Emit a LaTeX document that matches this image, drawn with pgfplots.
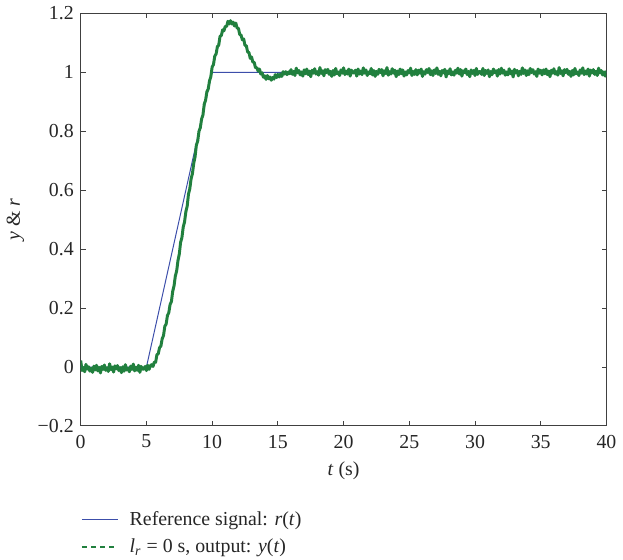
\documentclass[border=0pt]{standalone}
\usepackage{fontspec}
\setmainfont{Liberation Serif}
\usepackage{pgfplots}
\pgfplotsset{compat=1.18}
\definecolor{refblue}{RGB}{60,78,170}
\definecolor{outgreen}{RGB}{33,128,62}
\begin{document}
\fontsize{10}{12}\selectfont
\begin{tikzpicture}
\begin{axis}[
  scale only axis,
  width=265pt, height=208pt,
  xmin=0, xmax=40, ymin=-0.2, ymax=1.2,
  xtick={0,5,...,40},
  ytick={-0.2,0,0.2,0.4,0.6,0.8,1,1.2},
  yticklabels={−0.2,0,0.2,0.4,0.6,0.8,1,1.2},
  /pgf/number format/assume math mode=true,
  tick align=inside,
  major tick length=2.5pt,
  tick style={black!75, line width=0.5pt},
  axis line style={black!75, line width=0.5pt},
  tick label style={font=\fontsize{10}{12}\selectfont, black!85},
  xticklabel style={yshift=-1pt},
  xlabel={\textit{t} (s)},
  ylabel={\textit{y} \& \textit{r}},
  label style={font=\fontsize{10}{12}\selectfont, black!85},
  legend style={at={(rel axis cs:0,-0.195)}, anchor=north west, draw=none, fill=none,
    font=\fontsize{10}{12}\selectfont, text=black!85, row sep=1pt, inner sep=0pt,
    nodes={inner sep=2.2pt}},
  legend image code/.code={\draw[#1] (0pt,0pt) -- (18pt,0pt);},
  legend cell align=left,
  clip=true,
]
\addplot[refblue, line width=0.5pt] coordinates {(0,0)(5,0)(10,1)(40,1)};
\addlegendentry{\hspace{3.5pt}Reference signal: \textit{r}(\textit{t})}
\addplot[outgreen, line width=1.5pt, line join=round, legend image post style={outgreen, dash pattern=on 2.6pt off 2pt, line width=0.8pt}] coordinates {
(0.0,0.022)(0.1,-0.012)(0.2,-0.002)(0.3,-0.016)(0.4,0.009)(0.5,-0.007)(0.6,0.001)(0.7,-0.014)(0.8,-0.004)(0.9,-0.018)
(1.0,0.003)(1.1,-0.010)(1.2,0.006)(1.3,-0.013)(1.4,-0.001)(1.5,-0.020)(1.6,0.002)(1.7,-0.008)(1.8,0.007)(1.9,-0.011)
(2.0,-0.003)(2.1,-0.015)(2.2,0.011)(2.3,-0.009)(2.4,0.000)(2.5,-0.017)(2.6,0.004)(2.7,-0.006)(2.8,0.005)(2.9,-0.012)
(3.0,-0.002)(3.1,-0.019)(3.2,0.001)(3.3,-0.014)(3.4,0.008)(3.5,-0.010)(3.6,-0.004)(3.7,-0.016)(3.8,0.003)(3.9,-0.008)
(4.0,0.010)(4.1,-0.013)(4.2,-0.001)(4.3,-0.011)(4.4,0.006)(4.5,-0.018)(4.6,0.002)(4.7,-0.007)(4.8,-0.007)(4.9,0.002)
(5.0,-0.012)(5.1,0.006)(5.2,-0.008)(5.3,0.004)
(5.4,0.008)(5.5,0.002)(5.6,0.017)(5.7,0.016)(5.8,0.042)(5.9,0.045)(6.0,0.066)(6.1,0.071)(6.2,0.096)(6.3,0.107)
(6.4,0.138)(6.5,0.146)(6.6,0.175)(6.7,0.184)(6.8,0.212)(6.9,0.222)(7.0,0.257)(7.1,0.275)(7.2,0.309)(7.3,0.326)
(7.4,0.361)(7.5,0.383)(7.6,0.423)(7.7,0.439)(7.8,0.475)(7.9,0.492)(8.0,0.527)(8.1,0.545)(8.2,0.587)(8.3,0.605)
(8.4,0.639)(8.5,0.656)(8.6,0.691)(8.7,0.713)(8.8,0.753)(8.9,0.766)(9.0,0.800)(9.1,0.812)(9.2,0.842)(9.3,0.855)
(9.4,0.892)(9.5,0.905)(9.6,0.934)(9.7,0.943)(9.8,0.971)(9.9,0.985)(10.0,1.018)(10.1,1.026)(10.2,1.055)(10.3,1.062)
(10.4,1.087)(10.5,1.092)(10.6,1.122)(10.7,1.125)(10.8,1.144)(10.9,1.141)(11.0,1.156)(11.1,1.155)(11.2,1.173)(11.3,1.164)
(11.4,1.175)(11.5,1.164)(11.6,1.170)(11.7,1.157)(11.8,1.167)(11.9,1.150)(12.0,1.149)(12.1,1.128)(12.2,1.126)(12.3,1.110)
(12.4,1.113)(12.5,1.091)(12.6,1.090)(12.7,1.069)(12.8,1.067)(12.9,1.047)(13.0,1.052)(13.1,1.034)(13.2,1.034)(13.3,1.015)
(13.4,1.016)(13.5,1.004)(13.6,1.011)(13.7,0.994)(13.8,0.998)(13.9,0.983)(14.0,0.988)(14.1,0.976)(14.2,0.989)(14.3,0.978)
(14.4,0.984)(14.5,0.973)(14.6,0.982)(14.7,0.977)(14.8,0.992)(14.9,0.982)(15.0,0.993)(15.1,0.984)(15.2,0.994)(15.3,0.986)
(15.4,1.002)(15.5,0.994)(15.6,1.002)(15.7,0.992)(15.8,1.001)(15.9,0.995)
(16.0,1.009)(16.1,0.993)(16.2,1.003)(16.3,0.989)(16.4,1.014)(16.5,0.998)(16.6,1.006)(16.7,0.991)(16.8,1.001)(16.9,0.987)
(17.0,1.008)(17.1,0.995)(17.2,1.011)(17.3,0.992)(17.4,1.004)(17.5,0.985)(17.6,1.007)(17.7,0.997)(17.8,1.012)(17.9,0.994)
(18.0,1.002)(18.1,0.990)(18.2,1.016)(18.3,0.996)(18.4,1.005)(18.5,0.988)(18.6,1.009)(18.7,0.999)(18.8,1.010)(18.9,0.993)
(19.0,1.003)(19.1,0.986)(19.2,1.006)(19.3,0.991)(19.4,1.013)(19.5,0.995)(19.6,1.001)(19.7,0.989)(19.8,1.008)(19.9,0.997)
(20.0,1.015)(20.1,0.992)(20.2,1.004)(20.3,0.994)(20.4,1.011)(20.5,0.987)(20.6,1.007)(20.7,0.998)(20.8,0.998)(20.9,1.007)
(21.0,0.987)(21.1,1.011)(21.2,0.994)(21.3,1.004)(21.4,0.992)(21.5,1.015)(21.6,0.997)(21.7,1.008)(21.8,0.989)(21.9,1.001)
(22.0,0.995)(22.1,1.013)(22.2,0.991)(22.3,1.006)(22.4,0.986)(22.5,1.003)(22.6,0.993)(22.7,1.010)(22.8,0.999)(22.9,1.009)
(23.0,0.988)(23.1,1.005)(23.2,0.996)(23.3,1.016)(23.4,0.990)(23.5,1.002)(23.6,0.994)(23.7,1.012)(23.8,0.997)(23.9,1.007)
(24.0,0.985)(24.1,1.004)(24.2,0.992)(24.3,1.011)(24.4,0.995)(24.5,1.008)(24.6,0.987)(24.7,1.001)(24.8,0.991)(24.9,1.006)
(25.0,0.998)(25.1,1.014)(25.2,0.989)(25.3,1.003)(25.4,0.993)(25.5,1.009)(25.6,0.991)(25.7,1.007)(25.8,0.997)(25.9,1.011)
(26.0,0.986)(26.1,1.002)(26.2,0.994)(26.3,1.009)(26.4,0.999)(26.5,1.013)(26.6,0.992)(26.7,1.005)(26.8,0.989)(26.9,1.008)
(27.0,0.996)(27.1,1.015)(27.2,0.993)(27.3,1.003)(27.4,0.988)(27.5,1.006)(27.6,0.998)(27.7,1.010)(27.8,0.984)(27.9,1.004)
(28.0,0.995)(28.1,1.012)(28.2,0.991)(28.3,1.001)(28.4,0.990)(28.5,1.007)(28.6,0.997)(28.7,1.014)(28.8,0.994)(28.9,1.009)
(29.0,0.987)(29.1,1.005)(29.2,0.999)(29.3,1.011)(29.4,0.992)(29.5,1.003)(29.6,0.985)(29.7,1.008)(29.8,0.996)(29.9,1.006)
(30.0,0.989)(30.1,1.013)(30.2,0.993)(30.3,1.002)(30.4,1.002)(30.5,0.993)(30.6,1.013)(30.7,0.989)(30.8,1.006)(30.9,0.996)
(31.0,1.008)(31.1,0.985)(31.2,1.003)(31.3,0.992)(31.4,1.011)(31.5,0.999)(31.6,1.005)(31.7,0.987)(31.8,1.009)(31.9,0.994)
(32.0,1.014)(32.1,0.997)(32.2,1.007)(32.3,0.990)(32.4,1.001)(32.5,0.991)(32.6,1.012)(32.7,0.995)(32.8,1.004)(32.9,0.984)
(33.0,1.010)(33.1,0.998)(33.2,1.006)(33.3,0.988)(33.4,1.003)(33.5,0.993)(33.6,1.015)(33.7,0.996)(33.8,1.008)(33.9,0.989)
(34.0,1.005)(34.1,0.992)(34.2,1.013)(34.3,0.999)(34.4,1.009)(34.5,0.994)(34.6,1.002)(34.7,0.986)(34.8,1.011)(34.9,0.997)
(35.0,1.007)(35.1,0.991)(35.2,1.008)(35.3,0.995)(35.4,1.011)(35.5,0.992)(35.6,1.004)(35.7,0.985)(35.8,1.007)(35.9,0.997)
(36.0,1.012)(36.1,0.994)(36.2,1.002)(36.3,0.990)(36.4,1.016)(36.5,0.996)(36.6,1.005)(36.7,0.988)(36.8,1.009)(36.9,0.999)
(37.0,1.010)(37.1,0.993)(37.2,1.003)(37.3,0.986)(37.4,1.006)(37.5,0.991)(37.6,1.013)(37.7,0.995)(37.8,1.001)(37.9,0.989)
(38.0,1.008)(38.1,0.997)(38.2,1.015)(38.3,0.992)(38.4,1.004)(38.5,0.994)(38.6,1.011)(38.7,0.987)(38.8,1.007)(38.9,0.998)
(39.0,1.009)(39.1,0.993)(39.2,1.003)(39.3,0.989)(39.4,1.014)(39.5,0.998)(39.6,1.006)(39.7,0.991)(39.8,1.001)(39.9,0.987)
(40.0,1.005)
};
\addlegendentry{\hspace{3.5pt}\textit{l}\textsubscript{\textit{r}} = 0 s, output: \textit{y}(\textit{t})}
\end{axis}
\end{tikzpicture}
\end{document}
